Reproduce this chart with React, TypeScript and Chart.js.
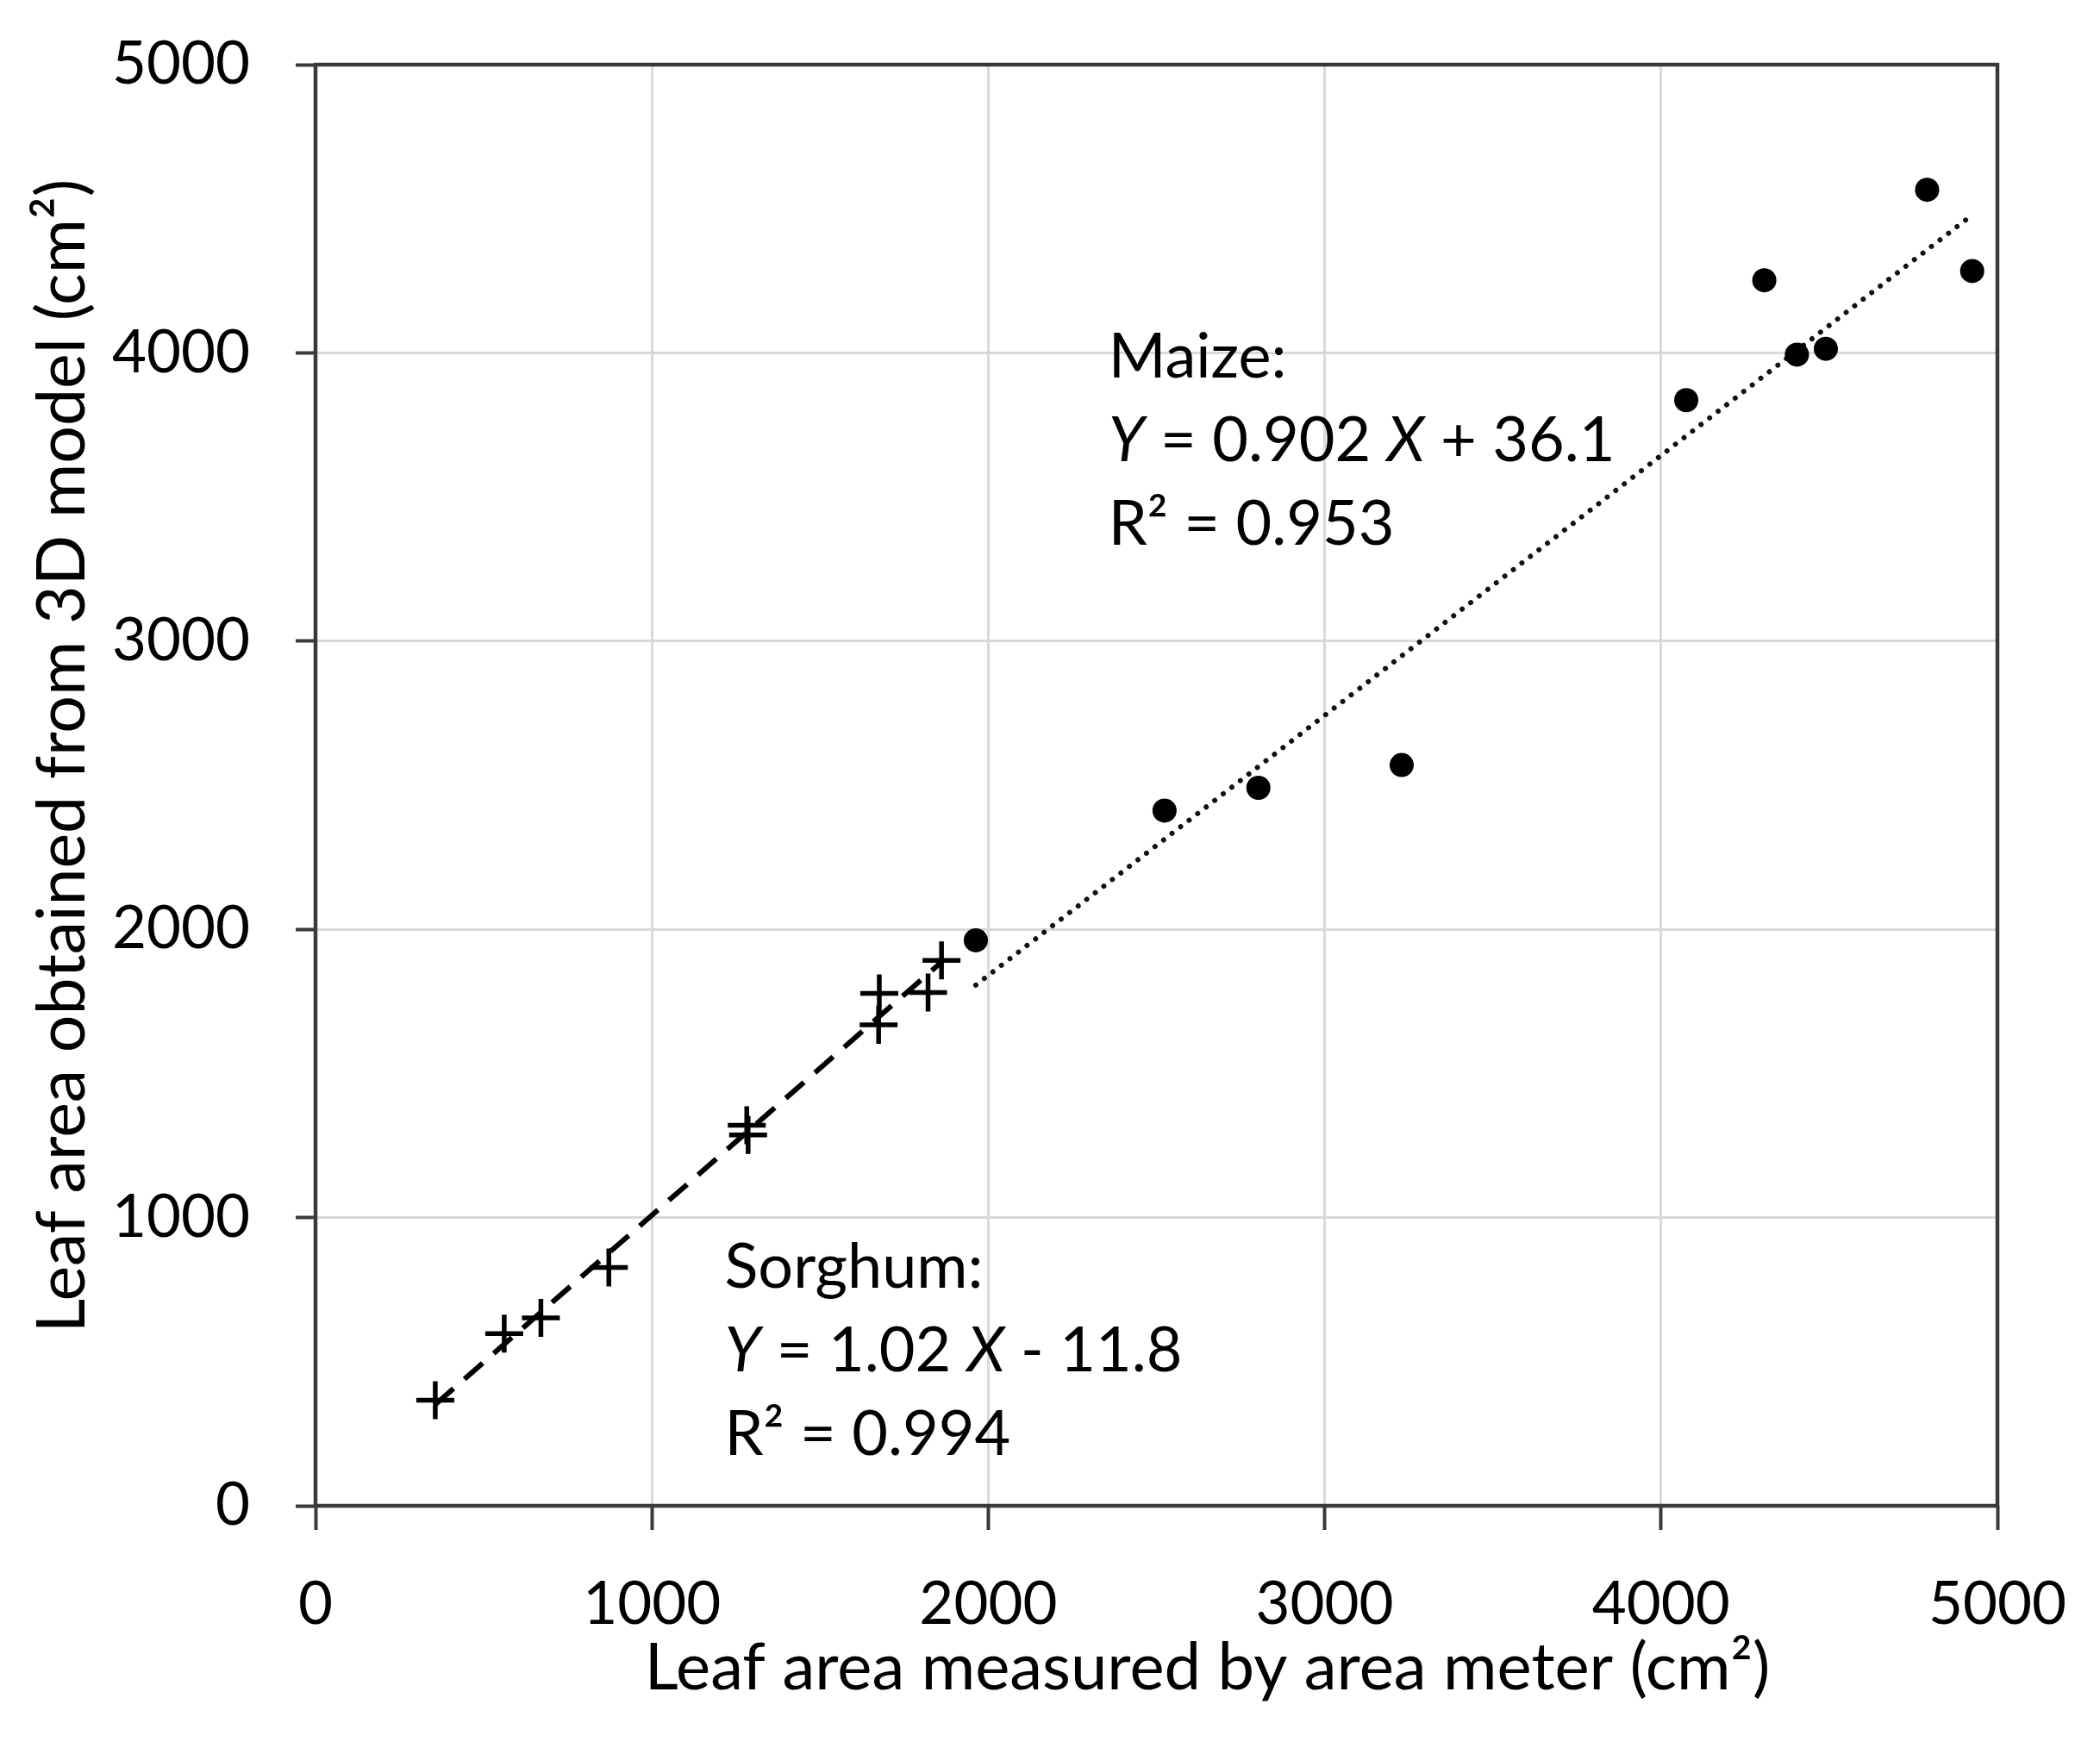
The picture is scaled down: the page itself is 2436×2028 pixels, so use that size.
import React, { useEffect, useRef } from "react";
import { Chart, registerables } from "chart.js";

Chart.register(...registerables);

// ---------- data ----------
const maizeX = [1963, 2524, 2803, 3229, 4075, 4307, 4404, 4490, 4791, 4925];
const maizeY = [1962, 2412, 2491, 2570, 3836, 4252, 3994, 4014, 4566, 4284];

const sorghumX = [356, 561, 670, 872, 1282, 1286, 1674, 1676, 1821, 1861];
const sorghumY = [366, 597, 652, 827, 1320, 1287, 1669, 1778, 1781, 1892];

const xTicks = [0, 1000, 2000, 3000, 4000, 5000];
const yTicks = [0, 1000, 2000, 3000, 4000, 5000];

const maizeFit = { slope: 0.902, intercept: 36.1, r2: "0.953" };
const sorghumFit = { slope: 1.02, intercept: -11.8, r2: "0.994" };

const xTitle = "Leaf area measured by area meter (cm\u00B2)";
const yTitle = "Leaf area obtained from 3D model (cm\u00B2)";

// annotation anchors (data units, first-line baseline)
const maizeLabelAnchor = { x: 2357, y: 3913 };
const sorghumLabelAnchor = { x: 1216, y: 757 };

// ---------- helpers ----------
const FONT = "Lato, 'Open Sans', sans-serif";
const TEXT = "#000";
const AXIS = "#3a3a3a";

const fitLine = (xs: number[], fit: { slope: number; intercept: number }) => {
  const lo = Math.min(...xs);
  const hi = Math.max(...xs);
  return [
    { x: lo, y: fit.slope * lo + fit.intercept },
    { x: hi, y: fit.slope * hi + fit.intercept },
  ];
};

type Seg = { t: string; italic?: boolean };

const equationLines = (
  name: string,
  fit: { slope: number; intercept: number; r2: string }
): Seg[][] => {
  const sign = fit.intercept < 0 ? " - " : " + ";
  return [
    [{ t: name + ":" }],
    [
      { t: "Y", italic: true },
      { t: " = " + fit.slope + " " },
      { t: "X", italic: true },
      { t: sign + Math.abs(fit.intercept) },
    ],
    [{ t: "R\u00B2 = " + fit.r2 }],
  ];
};

const annotationPlugin = {
  id: "fitAnnotations",
  afterDraw(chart: any) {
    const { ctx, scales } = chart;
    const size = 72;
    const lineGap = 97;
    const blocks = [
      { anchor: maizeLabelAnchor, lines: equationLines("Maize", maizeFit) },
      { anchor: sorghumLabelAnchor, lines: equationLines("Sorghum", sorghumFit) },
    ];
    ctx.save();
    ctx.fillStyle = TEXT;
    ctx.textBaseline = "alphabetic";
    ctx.textAlign = "left";
    for (const b of blocks) {
      const x0 = scales.x.getPixelForValue(b.anchor.x);
      const y0 = scales.y.getPixelForValue(b.anchor.y);
      b.lines.forEach((segs, i) => {
        let cx = x0;
        for (const s of segs) {
          ctx.font = `${s.italic ? "italic " : ""}${size}px ${FONT}`;
          ctx.fillText(s.t, cx, y0 + i * lineGap);
          cx += ctx.measureText(s.t).width;
        }
      });
    }
    ctx.restore();
  },
};

const axisTitlePlugin = {
  id: "axisTitles",
  afterDraw(chart: any) {
    const { ctx, chartArea } = chart;
    ctx.save();
    ctx.fillStyle = TEXT;
    ctx.textAlign = "center";
    ctx.textBaseline = "alphabetic";
    // x title
    ctx.font = `76px ${FONT}`;
    const cx = (chartArea.left + chartArea.right) / 2 + 59;
    ctx.fillText(xTitle, cx, chartArea.bottom + 213);
    // y title
    ctx.font = `77px ${FONT}`;
    const cy = (chartArea.top + chartArea.bottom) / 2 - 34;
    ctx.translate(98, cy);
    ctx.rotate(-Math.PI / 2);
    ctx.fillText(yTitle, 0, 0);
    ctx.restore();
  },
};

const framePlugin = {
  id: "plotFrame",
  beforeDatasetsDraw(chart: any) {
    const { ctx, chartArea } = chart;
    ctx.save();
    ctx.strokeStyle = AXIS;
    ctx.lineWidth = 4.5;
    ctx.strokeRect(
      chartArea.left,
      chartArea.top,
      chartArea.right - chartArea.left,
      chartArea.bottom - chartArea.top
    );
    ctx.restore();
  },
};

export default function App() {
  const ref = useRef<HTMLCanvasElement | null>(null);

  useEffect(() => {
    if (!ref.current) return;
    const chart = new Chart(ref.current, {
      type: "scatter",
      data: {
        datasets: [
          {
            label: "Maize",
            data: maizeX.map((x, i) => ({ x, y: maizeY[i] })),
            pointStyle: "circle",
            pointRadius: 14,
            pointBackgroundColor: "#000",
            pointBorderWidth: 0,
            showLine: false,
            order: 0,
          },
          {
            label: "Sorghum",
            data: sorghumX.map((x, i) => ({ x, y: sorghumY[i] })),
            pointStyle: "cross",
            pointRadius: 22,
            pointBorderColor: "#000",
            pointBorderWidth: 5.5,
            showLine: false,
            order: 0,
          },
          {
            label: "Maize fit",
            data: fitLine(maizeX, maizeFit),
            showLine: true,
            pointRadius: 0,
            borderColor: "#111",
            borderWidth: 6,
            borderDash: [0.01, 12.5],
            borderCapStyle: "round",
            order: 1,
          },
          {
            label: "Sorghum fit",
            data: fitLine(sorghumX, sorghumFit),
            showLine: true,
            pointRadius: 0,
            borderColor: "#000",
            borderWidth: 6,
            borderDash: [28, 17],
            borderCapStyle: "butt",
            order: 1,
          },
        ],
      },
      options: {
        responsive: false,
        animation: false,
        devicePixelRatio: 1,
        layout: { padding: { top: 75, right: 119, left: 0, bottom: 0 } },
        plugins: {
          legend: { display: false },
          tooltip: { enabled: false },
        },
        scales: {
          x: {
            type: "linear",
            min: 0,
            max: 5000,
            afterBuildTicks: (s: any) => {
              s.ticks = xTicks.map((v) => ({ value: v }));
            },
            afterFit: (s: any) => {
              s.height = 281;
              s.paddingLeft = 0;
              s.paddingRight = 0;
            },
            grid: {
              color: "#d9d9d9",
              lineWidth: 3,
              tickColor: AXIS,
              tickWidth: 4,
              tickLength: 28,
            },
            border: { display: false },
            ticks: {
              color: TEXT,
              padding: 45,
              font: { family: FONT, size: 69 },
              maxRotation: 0,
              callback: (v: any) => String(v),
            },
            title: { display: false },
          },
          y: {
            type: "linear",
            min: 0,
            max: 5000,
            afterBuildTicks: (s: any) => {
              s.ticks = yTicks.map((v) => ({ value: v }));
            },
            afterFit: (s: any) => {
              s.width = 366;
              s.paddingTop = 0;
              s.paddingBottom = 0;
            },
            grid: {
              color: "#d9d9d9",
              lineWidth: 3,
              tickColor: AXIS,
              tickWidth: 4,
              tickLength: 23,
            },
            border: { display: false },
            ticks: {
              color: TEXT,
              padding: 53,
              font: { family: FONT, size: 69 },
              callback: (v: any) => String(v),
            },
            title: { display: false },
          },
        },
      },
      plugins: [framePlugin, annotationPlugin, axisTitlePlugin],
    });
    return () => chart.destroy();
  }, []);

  return (
    <div style={{ position: "absolute", left: 0, top: 0, width: 2436, height: 2028, background: "#fff" }}>
      <canvas ref={ref} width={2436} height={2028} style={{ display: "block" }} />
    </div>
  );
}
